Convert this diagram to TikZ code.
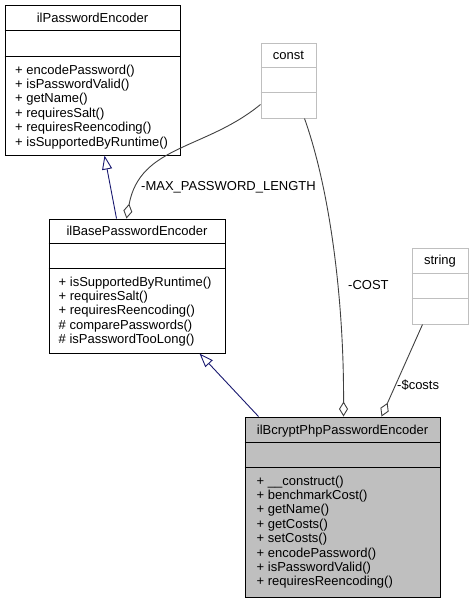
\documentclass[tikz,border=0pt]{standalone}
\usepackage{fontspec}
\setmainfont{Liberation Sans}
\usetikzlibrary{arrows.meta}
\definecolor{navyline}{HTML}{191970}
\definecolor{darkline}{HTML}{404040}
\definecolor{grey75}{HTML}{BFBFBF}

\begin{document}
\begin{tikzpicture}[x=1pt,y=-1pt,
    every node/.style={font=\fontsize{13}{14.4}\selectfont, inner sep=0pt},
    cls/.style={draw=black, line width=1pt, fill=white},
    ext/.style={draw=grey75, line width=1pt, fill=white},
    cur/.style={draw=black, line width=1pt, fill=grey75},
    meth/.style={anchor=north west, align=left},
    inherit/.style={draw=navyline, line width=0.9pt, -{Triangle[open, length=14pt, width=10pt, fill=white]}},
    agg/.style={draw=darkline, line width=0.9pt, -{Diamond[open, length=15pt, width=9pt, fill=white]}}]
    \useasboundingbox (0,0) rectangle (473,603);
    % classes
        \node[cls, minimum width=175, minimum height=150] (pe) at (92.5,80) {};
        \node[cls, minimum width=176, minimum height=134] (base) at (137,286) {};
        \node[ext, minimum width=55, minimum height=75] (const) at (288.5,80.5) {};
        \node[ext, minimum width=56, minimum height=76] (string) at (440,286) {};
        \node[cur, minimum width=195, minimum height=180] (bc) at (342.5,507) {};
        \foreach \c/\a/\b/\s in {pe/26/52/black, base/25/50/black, const/25/50/grey75, string/26/51/grey75, bc/26/51/black} {
            \draw[draw=\s, line width=1pt] ([yshift=-\a]\c.north west) -- ([yshift=-\a]\c.north east);
            \draw[draw=\s, line width=1pt] ([yshift=-\b]\c.north west) -- ([yshift=-\b]\c.north east);
        }
    % names
        \node[anchor=base] (pe-t) at ([yshift=-17.5]pe.north) {ilPasswordEncoder};
        \node[anchor=base] (base-t) at ([yshift=-17]base.north) {ilBasePasswordEncoder};
        \node[anchor=base] (const-t) at ([yshift=-16.5]const.north) {const};
        \node[anchor=base] (string-t) at ([yshift=-17]string.north) {string};
        \node[anchor=base] (bc-t) at ([yshift=-17.5]bc.north) {ilBcryptPhpPasswordEncoder};
    % methods
        \node[meth] (pe-m) at ([xshift=10.5,yshift=-60]pe.north west) {+ encodePassword()\\+ isPasswordValid()\\+ getName()\\+ requiresSalt()\\+ requiresReencoding()\\+ isSupportedByRuntime()};
        \node[meth] (base-m) at ([xshift=10,yshift=-58]base.north west) {+ isSupportedByRuntime()\\+ requiresSalt()\\+ requiresReencoding()\\\# comparePasswords()\\\# isPasswordTooLong()};
        \node[meth] (bc-m) at ([xshift=12,yshift=-59]bc.north west) {+ \_\_construct()\\+ benchmarkCost()\\+ getName()\\+ getCosts()\\+ setCosts()\\+ encodePassword()\\+ isPasswordValid()\\+ requiresReencoding()};
    % connectors
        \draw[inherit] ([xshift=68]base.north west) -- ([xshift=100]pe.south west);
        \draw[inherit] ([xshift=14]bc.north west) -- ([xshift=151]base.south west);
        \draw[agg] ([yshift=-62]const.north west) .. controls (205,150) and (140,145) .. ([xshift=78]base.north west);
        \draw[agg] ([xshift=44]const.south west) .. controls (330,190) and (344,300) .. ([xshift=99]bc.north west);
        \draw[agg] ([xshift=11]string.south west) -- ([xshift=137]bc.north west);
        \node[anchor=base west] (l-max) at (141,190.5) {-MAX\_PASSWORD\_LENGTH};
        \node[anchor=base west] (l-cost) at (348,289.5) {-COST};
        \node[anchor=base west] (l-costs) at (397,389.5) {-\$costs};
\end{tikzpicture}
\end{document}
